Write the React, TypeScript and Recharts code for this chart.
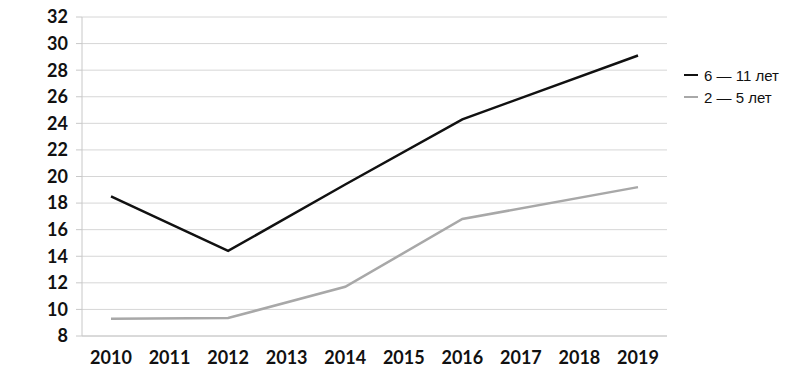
import { CartesianGrid, Line, LineChart, XAxis, YAxis } from "recharts";

const YEARS = ["2010", "2011", "2012", "2013", "2014", "2015", "2016", "2017", "2018", "2019"];
// только годы с наблюдениями, остальные пропущены и соединяются прямыми
const AGE_6_11 = [18.5, null, 14.4, null, 19.4, null, 24.3, null, null, 29.1];
const AGE_2_5 = [9.3, null, 9.35, null, 11.7, null, 16.8, null, null, 19.2];
const Y_TICKS = [8, 10, 12, 14, 16, 18, 20, 22, 24, 26, 28, 30, 32];

const SERIES = [
  { key: "older", name: "6 — 11 лет", color: "#111111" },
  { key: "younger", name: "2 — 5 лет", color: "#a8a8a8" }
];

const data = YEARS.map((year, i) => ({
  year,
  older: AGE_6_11[i],
  younger: AGE_2_5[i]
}));

const tickFont = {
  fontFamily: "Lato, 'Open Sans', sans-serif",
  fontWeight: 700,
  fontSize: 18,
  fill: "#111"
};

function LegendBox() {
  return (
    <div
      style={{
        position: "absolute",
        left: 684,
        top: 64,
        fontFamily: "'Liberation Sans', Arial, sans-serif",
        fontSize: 15,
        color: "#111"
      }}
    >
      {SERIES.map((s) => (
        <div key={s.key} style={{ display: "flex", alignItems: "center", height: 22 }}>
          <span
            style={{
              display: "inline-block",
              width: 14,
              height: 2.5,
              background: s.color,
              marginRight: 6
            }}
          />
          {s.name}
        </div>
      ))}
    </div>
  );
}

export default function App() {
  return (
    <div style={{ position: "absolute", left: 0, top: 0, width: 800, height: 375, background: "#fff" }}>
      <LineChart
        width={800}
        height={375}
        data={data}
        margin={{ top: 17, right: 133, left: 0, bottom: 0 }}
      >
        <CartesianGrid stroke="#d6d6d6" vertical={false} />
        <XAxis
          dataKey="year"
          height={39}
          stroke="#c8c8c8"
          tickLine={false}
          tickMargin={9}
          tick={tickFont}
          interval={0}
          padding={{ left: 29, right: 29 }}
        />
        <YAxis
          width={82}
          domain={[8, 32]}
          ticks={Y_TICKS}
          interval={0}
          stroke="#c8c8c8"
          tickSize={6}
          tickMargin={8}
          tick={tickFont}
        />
        {SERIES.map((s) => (
          <Line
            key={s.key}
            dataKey={s.key}
            name={s.name}
            stroke={s.color}
            strokeWidth={2.5}
            dot={false}
            activeDot={false}
            connectNulls
            type="linear"
            isAnimationActive={false}
          />
        ))}
      </LineChart>
      <LegendBox />
    </div>
  );
}
